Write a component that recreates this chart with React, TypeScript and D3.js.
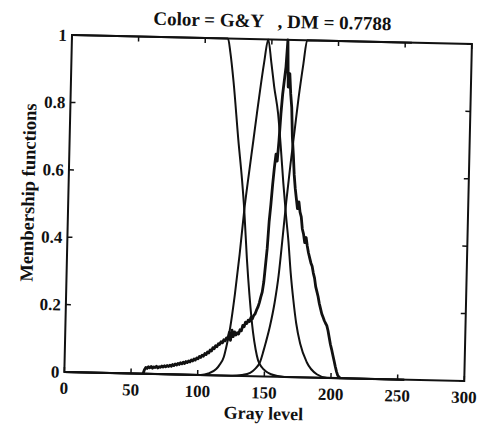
import React from 'react'
import * as d3 from 'd3'

const W = 483
const H = 426
// the scanned figure sits a little tilted on the page
const origin = { x: 72, y: 35 }
const tilt = 1.3
const plotW = 400
const plotH = 337
const font = '"Liberation Serif", "Times New Roman", serif'

const title = 'Color = G&Y   , DM = 0.7788'
const xLabel = 'Gray level'
const yLabel = 'Membership functions'
const xTicks = [0, 50, 100, 150, 200, 250, 300]
const yTicks = [0, 0.2, 0.4, 0.6, 0.8, 1]
const yTickLabels = ['0', '0.2', '0.4', '0.6', '0.8', '1']

// membership functions, [gray level, degree]
const zFunc: [number, number][] = [
  [0, 1], [117, 1], [119, 0.96], [122, 0.87], [126.5, 0.7], [130, 0.58], [132.2, 0.49],
  [134.9, 0.35], [137.5, 0.24], [140.8, 0.13], [143, 0.08], [145, 0.048], [148, 0.027],
  [150.5, 0.017], [155, 0.007], [160, 0.002], [165, 0], [255, 0],
]
const bellFunc: [number, number][] = [
  [0, 0], [102, 0], [108, 0.005], [113.8, 0.019], [116, 0.03], [119.3, 0.055], [121, 0.085],
  [123.5, 0.14], [126.5, 0.24], [129.4, 0.36], [132.1, 0.49], [135, 0.6], [137.8, 0.7],
  [140, 0.78], [142, 0.85], [144.5, 0.93], [147.2, 1], [150, 0.93], [152.5, 0.86],
  [155.9, 0.78], [158.5, 0.68], [161, 0.574], [163.5, 0.48], [165.7, 0.406], [168, 0.31],
  [170.5, 0.228], [173, 0.16], [176.3, 0.1], [181.6, 0.045], [189.3, 0.01], [197, 0], [255, 0],
]
const sFunc: [number, number][] = [
  [0, 0], [125, 0], [133, 0.003], [139.3, 0.01], [143, 0.022], [146.6, 0.043], [148.9, 0.075],
  [150.5, 0.1], [153.4, 0.15], [156.5, 0.22], [159, 0.3], [161.5, 0.42], [163.5, 0.52],
  [166, 0.63], [168.5, 0.73], [171, 0.83], [174, 0.93], [176.4, 1], [255, 1],
]

// normalized gray-level histogram, one value per level starting at histStart
const histStart = 59
const histValues = [
  0, 0.012, 0.019, 0.016, 0.021, 0.018, 0.022, 0.017, 0.021, 0.019,
  0.023, 0.018, 0.022, 0.02, 0.024, 0.021, 0.025, 0.022, 0.026, 0.023,
  0.027, 0.024, 0.029, 0.026, 0.031, 0.028, 0.033, 0.03, 0.035, 0.032,
  0.037, 0.033, 0.039, 0.036, 0.041, 0.038, 0.044, 0.041, 0.047, 0.044,
  0.05, 0.048, 0.055, 0.052, 0.059, 0.056, 0.064, 0.061, 0.069, 0.066,
  0.075, 0.072, 0.082, 0.079, 0.088, 0.085, 0.094, 0.092, 0.1, 0.097,
  0.106, 0.103, 0.112, 0.108, 0.128, 0.105, 0.135, 0.116, 0.13, 0.121,
  0.128, 0.124, 0.137, 0.134, 0.15, 0.146, 0.16, 0.156, 0.166, 0.162,
  0.174, 0.17, 0.18, 0.185, 0.196, 0.205, 0.218, 0.235, 0.25, 0.28,
  0.33, 0.38, 0.46, 0.51, 0.57, 0.62, 0.66, 0.64, 0.7, 0.78,
  0.84, 0.88, 0.92, 1.0, 0.86, 0.9, 0.84, 0.8, 0.71, 0.66,
  0.6, 0.56, 0.53, 0.5, 0.52, 0.49, 0.476, 0.44, 0.425, 0.4,
  0.415, 0.39, 0.37, 0.355, 0.34, 0.33, 0.31, 0.295, 0.27, 0.255,
  0.24, 0.22, 0.205, 0.19, 0.18, 0.17, 0.162, 0.155, 0.14, 0.12,
  0.1, 0.085, 0.068, 0.052, 0.035, 0.02, 0.008, 0.003, 0,
]

export default function App() {
  const x = d3.scaleLinear().domain([0, 300]).range([0, plotW])
  const y = d3.scaleLinear().domain([0, 1]).range([plotH, 0])

  const smooth = d3.line<[number, number]>()
    .x(d => x(d[0]))
    .y(d => y(d[1]))
    .curve(d3.curveMonotoneX)
  const hist = d3.line<number>()
    .x((d, i) => x(histStart + i))
    .y(d => y(d))

  const tick = 5
  const ink = '#111'

  return (
    <svg width={W} height={H} style={{ position: 'absolute', left: 0, top: 0, background: '#fff' }}>
      <rect width={W} height={H} fill="#fff" />
      <g transform={`translate(${origin.x},${origin.y}) rotate(${tilt})`} fontFamily={font} fill={ink}>
        <text x={plotW / 2} y={-12} textAnchor="middle" fontSize={19} fontWeight="bold"
          style={{ whiteSpace: 'pre' }}>{title}</text>

        {[zFunc, bellFunc, sFunc].map((f, i) => (
          <path key={i} d={smooth(f) || ''} fill="none" stroke={ink} strokeWidth={2} />
        ))}
        <path d={hist(histValues) || ''} fill="none" stroke={ink} strokeWidth={2.8} strokeLinejoin="round" />

        <rect x={0} y={0} width={plotW} height={plotH} fill="none" stroke={ink} strokeWidth={2} />
        {xTicks.map(t => (
          <g key={'x' + t}>
            <line x1={x(t)} x2={x(t)} y1={plotH} y2={plotH - tick} stroke={ink} strokeWidth={1.5} />
            <line x1={x(t)} x2={x(t)} y1={0} y2={tick} stroke={ink} strokeWidth={1.5} />
            <text x={x(t)} y={plotH + 22} textAnchor="middle" fontSize={17} fontWeight="bold">{t}</text>
          </g>
        ))}
        {yTicks.map((t, i) => (
          <g key={'y' + t}>
            <line x1={0} x2={tick} y1={y(t)} y2={y(t)} stroke={ink} strokeWidth={1.5} />
            <line x1={plotW} x2={plotW - tick} y1={y(t)} y2={y(t)} stroke={ink} strokeWidth={1.5} />
            <text x={-5} y={y(t) + 6} textAnchor="end" fontSize={17} fontWeight="bold">{yTickLabels[i]}</text>
          </g>
        ))}

        <text x={plotW / 2} y={plotH + 43} textAnchor="middle" fontSize={18} fontWeight="bold">{xLabel}</text>
        <text transform={`translate(-34,${plotH / 2 - 10}) rotate(-90)`} textAnchor="middle"
          fontSize={18.5} fontWeight="bold">{yLabel}</text>
      </g>
    </svg>
  )
}
